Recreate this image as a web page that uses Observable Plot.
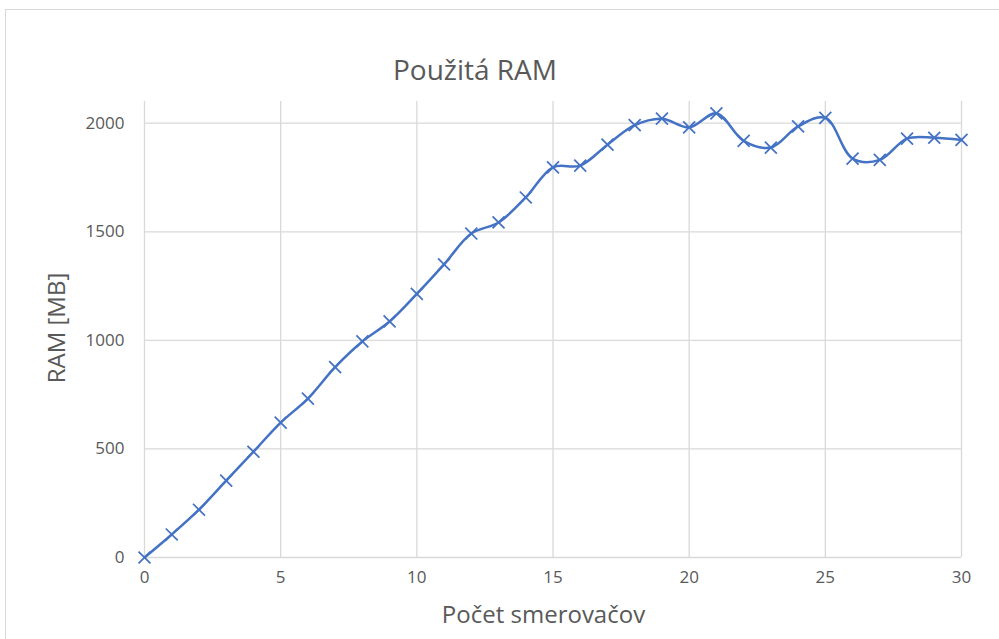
<!DOCTYPE html>
<html><head><meta charset="utf-8">
<script src="https://cdn.jsdelivr.net/npm/d3@7"></script>
<script src="https://cdn.jsdelivr.net/npm/@observablehq/plot@0.6"></script>
<style>
html,body{margin:0;padding:0;background:#fff;overflow:hidden;width:999px;height:639px;}
#wrap{position:relative;width:999px;height:639px;font-family:"Open Sans",sans-serif;color:#595959;}
#frame{position:absolute;left:5px;top:9px;width:1100px;height:700px;border:1px solid #d9d9d9;box-sizing:border-box;}
#title{position:absolute;left:0;top:50px;width:950px;text-align:center;font-size:28px;line-height:38px;}
#xtitle{position:absolute;left:135px;top:598px;width:817px;text-align:center;font-size:24px;line-height:32px;}
#ytitle{position:absolute;left:56px;top:328px;transform:translate(-50%,-50%) rotate(-90deg);font-size:24px;line-height:32px;white-space:nowrap;}
#chart{position:absolute;left:0;top:0;}
</style></head>
<body><div id="wrap"><div id="frame"></div><div id="chart"></div>
<div id="title">Použitá RAM</div>
<div id="xtitle">Počet smerovačov</div>
<div id="ytitle">RAM [MB]</div></div>
<script>
const routers = [0,1,2,3,4,5,6,7,8,9,10,11,12,13,14,15,16,17,18,19,20,21,22,23,24,25,26,27,28,29,30];
const ramMB = [0,106,220,354,487,621,732,877,995,1087,1214,1350,1492,1543,1658,1797,1805,1901,1991,2021,1981,2045,1919,1888,1985,2025,1837,1831,1929,1933,1923];
const yTicks = [0,500,1000,1500,2000];
const xTicks = [0,5,10,15,20,25,30];
const data = routers.map((r,i)=>({r, v: ramMB[i]}));
const blue = "#4472C4";
const chart = Plot.plot({
  width: 999, height: 639,
  marginLeft: 144, marginRight: 38, marginTop: 101, marginBottom: 82,
  style: {fontFamily: "'Open Sans', sans-serif", fontSize: "17px", color: "#595959", background: "transparent", overflow: "visible"},
  x: {domain: [0,30], label: null},
  y: {domain: [0,2100], label: null},
  marks: [
    Plot.gridX(xTicks, {stroke: "#d9d9d9", strokeOpacity: 1, strokeWidth: 1.3}),
    Plot.gridY(yTicks, {stroke: "#d9d9d9", strokeOpacity: 1, strokeWidth: 1.3}),
    Plot.axisX({ticks: xTicks, tickSize: 0, tickPadding: 13, fontSize: 17, label: null, tickFormat: d => String(d)}),
    Plot.axisY({ticks: yTicks, tickSize: 0, tickPadding: 20, fontSize: 17, label: null, tickFormat: d => String(d)}),
    Plot.line(data, {x: "r", y: "v", stroke: blue, strokeWidth: 2.5, curve: "catmull-rom"}),
    Plot.dot(data, {x: "r", y: "v", symbol: "times", r: 5.5, stroke: blue, strokeWidth: 1.75})
  ]
});
document.getElementById("chart").appendChild(chart);
</script></body></html>
